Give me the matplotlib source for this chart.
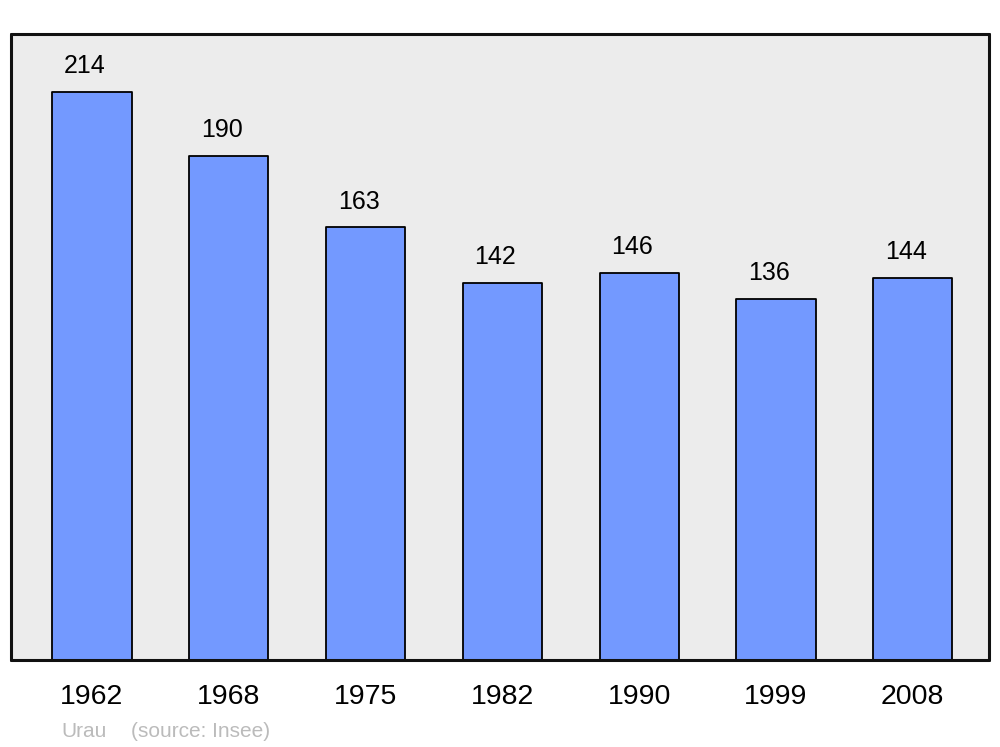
import matplotlib.pyplot as plt

plt.rcParams['font.family'] = ['Liberation Sans', 'DejaVu Sans']

# données : population par recensement
years = ['1962', '1968', '1975', '1982', '1990', '1999', '2008']
population = [214, 190, 163, 142, 146, 136, 144]

fig = plt.figure(figsize=(10, 7.47), dpi=100)
ax = fig.add_axes([0.011, 0.1165, 0.978, 0.838])
ax.set_facecolor('#ececec')

x = range(len(years))
bars = ax.bar(x, population, width=0.578, color='#7399ff', edgecolor='black',
              linewidth=1.3, zorder=2)
for b in bars:
    b.set_joinstyle('round')

# étiquettes des valeurs au-dessus des barres
for i, v in zip(x, population):
    ax.annotate(str(v), (i, v), xytext=(-5, 10), textcoords='offset points',
                ha='center', va='bottom', fontsize=18)

ax.set_xlim(-0.592, 6.557)
ax.set_ylim(0, 235.9)
ax.set_yticks([])
ax.set_xticks(list(x))
ax.set_xticklabels(years, fontsize=20.5)
ax.tick_params(axis='x', length=0, pad=17)

for s in ax.spines.values():
    s.set_linewidth(2.2)
    s.set_color('#111111')
    s.set_capstyle('round')
    s.set_joinstyle('round')

fig.text(0.061, 0.013, 'Urau', color='#bbbbbb', fontsize=15, ha='left', va='baseline')
fig.text(0.131, 0.013, '(source: Insee)', color='#bbbbbb', fontsize=15, ha='left', va='baseline')

fig.savefig('out.png', dpi=100)
